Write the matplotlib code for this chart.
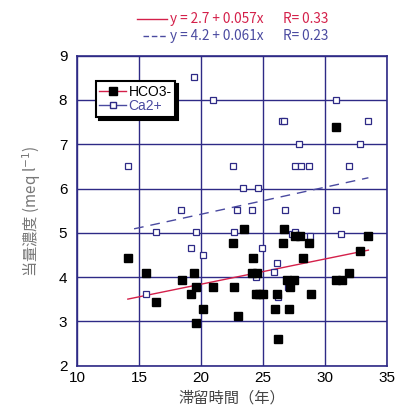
import matplotlib.pyplot as plt
import matplotlib.lines as mlines
import numpy as np

plt.rcParams['font.family'] = ['Liberation Sans', 'Noto Sans CJK JP']

# HCO3- (filled squares)
hco3_x = [14.1, 15.6, 16.4, 18.5, 19.4, 19.6, 19.2, 20.2, 19.6, 21.0,
          22.6, 23.5, 22.7, 23.0, 24.2, 24.1, 24.5, 24.4, 24.7, 25.0,
          26.7, 26.6, 26.0, 26.2, 26.1, 26.9, 27.5, 27.1, 27.2, 27.6,
          28.0, 28.2, 28.7, 28.9, 30.9, 31.4, 31.9, 32.8, 33.5, 30.9]
hco3_y = [4.43, 4.10, 3.44, 3.93, 4.10, 3.78, 3.62, 3.29, 2.96, 3.78,
          4.77, 5.08, 3.78, 3.12, 4.43, 4.10, 4.10, 3.62, 3.62, 3.62,
          5.08, 4.77, 3.29, 2.61, 3.62, 3.93, 3.93, 3.29, 3.78, 4.93,
          4.93, 4.43, 4.77, 3.62, 3.93, 3.93, 4.10, 4.60, 4.93, 7.39]

# Ca2+ (open squares)
ca_x = [19.4, 21.0, 30.9, 26.5, 26.7, 33.5, 27.9, 32.8, 14.1, 22.6,
        27.6, 28.1, 28.7, 31.9, 23.4, 24.6, 18.4, 22.9, 24.1, 26.8,
        30.9, 16.4, 19.6, 22.7, 27.3, 27.55, 28.8, 31.3, 19.2, 20.2,
        24.9, 26.1, 25.9, 24.4, 27.0, 26.2, 15.6]
ca_y = [8.51, 8.01, 8.01, 7.52, 7.52, 7.52, 7.00, 7.00, 6.51, 6.51,
        6.51, 6.51, 6.51, 6.51, 6.02, 6.02, 5.51, 5.51, 5.51, 5.51,
        5.51, 5.01, 5.01, 5.01, 4.97, 5.01, 4.93, 4.97, 4.66, 4.51,
        4.66, 4.32, 4.12, 4.00, 3.77, 3.56, 3.62]

# regression lines: intercept, slope, x range
hco3_fit = (2.7, 0.057, 14.1, 33.5)
ca_fit = (4.2, 0.061, 14.6, 33.5)

navy = '#2e2a86'
red = '#d4204a'
blue = '#4a4aa0'

fig = plt.figure(figsize=(4.02, 4.11), dpi=100)
ax = fig.add_axes([77/402, 1 - 365.7/411, 310/402, 310/411])

xf = np.array(hco3_fit[2:])
ax.plot(xf, hco3_fit[0] + hco3_fit[1]*xf, color=red, lw=1, zorder=2)
xf = np.array(ca_fit[2:])
ax.plot(xf, ca_fit[0] + ca_fit[1]*xf, color=blue, lw=1, dashes=(7, 5), zorder=2)

ax.plot(ca_x, ca_y, 's', ms=4.5, mfc='white', mec=navy, mew=0.9, ls='none', zorder=3)
ax.plot(hco3_x, hco3_y, 's', ms=5.3, color='black', ls='none', zorder=4)

ax.set_xlim(10, 35)
ax.set_ylim(2, 9)
ax.set_xticks(range(10, 36, 5))
ax.set_yticks(range(2, 10))
ax.grid(True, color=navy, lw=1)
ax.set_axisbelow(True)
for s in ax.spines.values():
    s.set_color(navy)
    s.set_linewidth(1.2)
ax.tick_params(axis='x', length=0, labelsize=11, pad=4)
ax.tick_params(axis='y', length=0, labelsize=11, pad=7)

ax.set_xlabel('滞留時間（年）', fontsize=11, color='#444444',
              family=['Noto Sans CJK JP'], labelpad=3)
ax.set_ylabel('当量濃度 (meq l$^{-1}$)', fontsize=11, color='#777777',
              family=['Noto Sans CJK JP'], labelpad=11)

# legend
h1 = mlines.Line2D([], [], color=red, marker='s', mfc='black', mec='black', ms=6, lw=1)
h2 = mlines.Line2D([], [], color=blue, marker='s', mfc='white', mec=navy, ms=4.5, lw=1)
leg = ax.legend([h1, h2], ['HCO3-', 'Ca2+'], loc='upper left',
                bbox_to_anchor=(0.061, 0.918), borderaxespad=0, fancybox=False,
                shadow={'facecolor': 'black', 'edgecolor': 'black', 'alpha': 1},
                fontsize=10, handlelength=1.9, handletextpad=0.2,
                borderpad=0.25, labelspacing=0.05, framealpha=1)
leg.get_frame().set_edgecolor('black')
leg.get_frame().set_linewidth(1.5)
leg.get_texts()[1].set_color(blue)

# equation annotations above the plot
fig.add_artist(mlines.Line2D([137/402, 167/402], [1 - 19/411, 1 - 19/411], color=red, lw=1))
fig.add_artist(mlines.Line2D([143/402, 167/402], [1 - 36/411, 1 - 36/411], color=blue, lw=1, dashes=(4, 2)))
fig.text(170/402, 1 - 19/411, 'y = 2.7 + 0.057x', color=red, fontsize=9.8,
         va='center', family=['Noto Sans CJK JP'])
fig.text(283/402, 1 - 19/411, 'R= 0.33', color=red, fontsize=9.8,
         va='center', family=['Noto Sans CJK JP'])
fig.text(170/402, 1 - 36/411, 'y = 4.2 + 0.061x', color=blue, fontsize=9.8,
         va='center', family=['Noto Sans CJK JP'])
fig.text(283/402, 1 - 36/411, 'R= 0.23', color=blue, fontsize=9.8,
         va='center', family=['Noto Sans CJK JP'])

fig.savefig('out.png', dpi=100)
